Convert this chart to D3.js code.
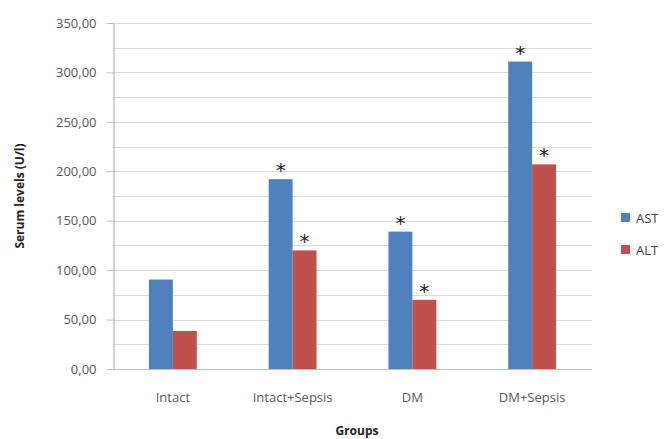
<!DOCTYPE html>
<html><head><meta charset="utf-8">
<script src="https://cdn.jsdelivr.net/npm/d3@7/dist/d3.min.js"></script>
<style>body{margin:0;background:#fff;}svg{display:block;}</style>
</head><body>
<script>
const categories = ["Intact", "Intact+Sepsis", "DM", "DM+Sepsis"];
const seriesNames = ["AST", "ALT"];
const astValues = [90.5, 192, 139, 311];
const altValues = [38.5, 120, 70, 207];
const astSig = [false, true, true, true];
const altSig = [false, true, true, true];
const yTicks = [0, 50, 100, 150, 200, 250, 300, 350];
const colors = ["#4f81bd", "#c0504d"];

(function () {
const W = 666, H = 439;
const svg = d3.select("body").append("svg").attr("width", W).attr("height", H);
const mLeft = 113, mRight = 592, mTop = 23, mBottom = 369;

const y = d3.scaleLinear().domain([0, 350]).range([mBottom, mTop]);
const x = d3.scaleBand().domain(categories).range([mLeft, mRight]);
const xs = d3.scaleBand().domain(seriesNames).range([0, x.bandwidth()]).paddingOuter(1.5).paddingInner(0);

// minor + major gridlines
const grid = d3.range(0, 351, 25);
svg.append("g").selectAll("line").data(grid).join("line")
  .attr("x1", mLeft).attr("x2", mRight)
  .attr("y1", d => Math.round(y(d)) + 0.5).attr("y2", d => Math.round(y(d)) + 0.5)
  .attr("stroke", "#d9d9d9").attr("stroke-width", 1);

// y axis
const yAxis = d3.axisLeft(y).tickValues(yTicks).tickSize(7).tickPadding(10)
  .tickFormat(d => d3.format(".2f")(d).replace(".", ","));
const ga = svg.append("g").attr("transform", `translate(${mLeft + 0.5},0)`).call(yAxis);
ga.select(".domain").attr("stroke", "#a6a6a6");
ga.selectAll(".tick line").attr("stroke", "#bfbfbf");
ga.selectAll(".tick text").attr("font-family", "Open Sans, sans-serif").attr("font-size", 13).attr("fill", "#595959");

// bars
const data = categories.map((c, i) => ({c, vals: [astValues[i], altValues[i]], sig: [astSig[i], altSig[i]]}));
const gCat = svg.append("g").selectAll("g").data(data).join("g")
  .attr("transform", d => `translate(${x(d.c)},0)`);
gCat.selectAll("rect").data(d => d.vals.map((v, j) => ({v, j}))).join("rect")
  .attr("x", d => xs(seriesNames[d.j]))
  .attr("width", xs.bandwidth())
  .attr("y", d => y(d.v))
  .attr("height", d => mBottom - y(d.v))
  .attr("fill", d => colors[d.j]);
gCat.selectAll("text.star").data(d => d.vals.map((v, j) => ({v, j, s: d.sig[j]})).filter(e => e.s)).join("text")
  .attr("class", "star")
  .attr("x", d => xs(seriesNames[d.j]) + xs.bandwidth() / 2)
  .attr("y", d => y(d.v) - 2)
  .attr("text-anchor", "middle")
  .attr("font-family", "DejaVu Sans, sans-serif").attr("font-size", 20).attr("fill", "#222")
  .text("*");

// baseline
svg.append("line").attr("x1", mLeft).attr("x2", mRight)
  .attr("y1", mBottom + 0.5).attr("y2", mBottom + 0.5).attr("stroke", "#bfbfbf");

// x labels
svg.append("g").selectAll("text").data(categories).join("text")
  .attr("x", d => x(d) + x.bandwidth() / 2).attr("y", 402)
  .attr("text-anchor", "middle")
  .attr("font-family", "Open Sans, sans-serif").attr("font-size", 13).attr("fill", "#595959")
  .text(d => d);

// axis titles
svg.append("text").attr("x", 357).attr("y", 435).attr("text-anchor", "middle")
  .attr("font-family", "Open Sans, sans-serif").attr("font-size", 12).attr("font-weight", "bold").attr("fill", "#222")
  .text("Groups");
svg.append("text").attr("transform", "translate(24,196) rotate(-90)").attr("text-anchor", "middle")
  .attr("font-family", "Open Sans, sans-serif").attr("font-size", 12).attr("font-weight", "bold").attr("fill", "#222")
  .text("Serum levels (U/l)");

// legend
const lg = svg.append("g").selectAll("g").data(seriesNames).join("g")
  .attr("transform", (d, i) => `translate(621,${213 + i * 32})`);
lg.append("rect").attr("width", 9).attr("height", 9).attr("fill", (d, i) => colors[i]);
lg.append("text").attr("x", 15).attr("y", 10)
  .attr("font-family", "Open Sans, sans-serif").attr("font-size", 13).attr("fill", "#404040")
  .text(d => d);
})();
</script>
</body></html>
